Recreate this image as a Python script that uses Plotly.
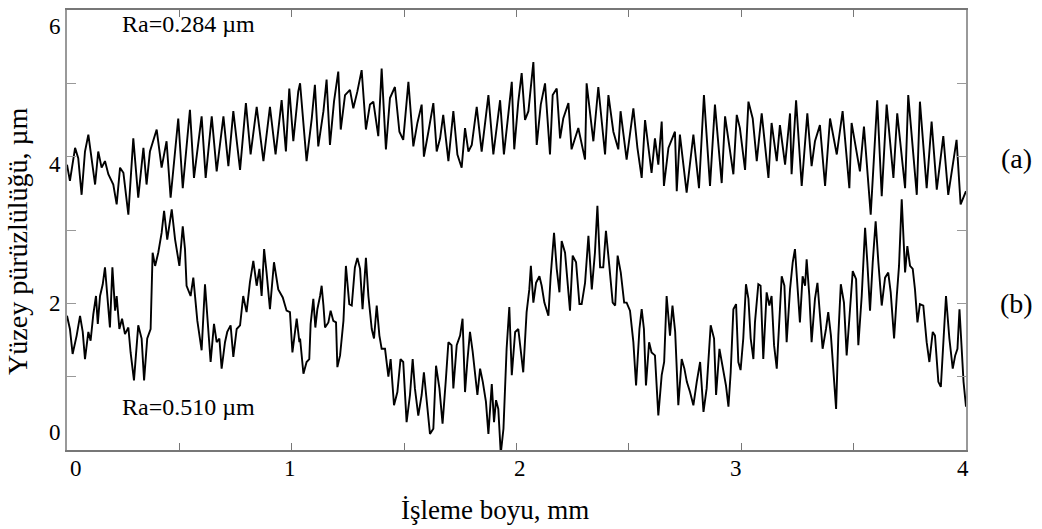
import plotly.graph_objects as go

# Profile (a) - upper curve, Ra = 0.284 um
xa = [0.000,0.013,0.036,0.050,0.065,0.080,0.095,0.110,0.125,0.139,0.154,0.169,0.184,0.206,0.221,0.236,0.251,0.273,0.295,0.317,
      0.340,0.354,0.369,0.399,0.421,0.443,0.461,0.495,0.515,0.547,0.565,0.599,0.617,0.644,0.666,0.696,0.718,0.740,0.770,0.796,
      0.817,0.844,0.874,0.903,0.928,0.955,0.974,0.989,1.007,1.029,
      1.037,1.066,1.089,1.103,1.118,1.141,1.155,1.170,1.188,1.207,1.218,1.237,1.259,1.274,1.292,1.311,1.330,1.348,1.363,1.385,
      1.400,1.419,1.437,1.459,1.479,1.496,1.519,1.541,1.559,1.578,1.588,1.608,1.630,1.645,1.660,1.674,1.697,1.719,1.737,1.756,
      1.771,1.786,1.801,1.823,1.845,1.875,1.897,1.927,1.944,1.964,1.979,1.990,2.008,
      2.023,2.038,2.053,2.075,2.090,2.108,2.127,2.149,2.161,2.179,2.194,2.208,2.231,2.245,2.275,2.305,2.312,2.342,2.364,2.394,
      2.409,2.431,2.453,2.463,2.490,2.520,2.538,2.557,2.572,2.601,2.616,2.631,2.646,2.656,2.676,2.705,2.713,2.727,2.757,2.787,
      2.812,2.834,2.861,2.883,2.913,
      2.928,2.965,2.980,2.994,3.017,3.032,3.051,3.069,3.091,3.121,3.135,3.158,3.172,3.195,3.217,3.224,3.244,3.269,3.294,3.313,
      3.328,3.350,3.373,3.395,3.425,3.451,3.481,3.491,3.528,3.546,3.576,3.605,3.625,3.647,3.677,3.694,3.729,3.743,3.781,3.795,
      3.825,3.847,3.870,3.899,3.921,3.958,3.976,4.000]
ya = [3.89,3.67,4.12,3.98,3.48,4.07,4.30,3.94,3.62,4.07,3.85,3.94,3.76,3.62,3.35,3.85,3.78,3.21,4.25,3.44,
      4.12,3.62,4.07,4.37,3.85,4.21,3.44,4.52,3.57,4.64,3.71,4.55,3.71,4.55,3.80,4.55,3.87,4.62,3.82,4.73,
      4.03,4.68,3.94,4.68,4.03,4.77,4.07,4.93,4.21,4.89,
      5.00,3.94,4.52,4.98,4.14,4.62,5.05,4.16,4.75,5.16,4.37,4.84,4.91,4.66,4.89,5.18,4.37,4.71,4.75,4.28,
      5.20,4.10,4.80,4.95,4.34,4.23,5.02,4.14,4.46,4.71,4.00,4.34,4.73,4.07,4.25,4.57,3.94,4.62,4.03,3.85,
      4.39,4.07,4.16,4.68,4.07,4.84,4.03,4.77,4.03,4.59,5.02,4.10,4.75,
      5.14,4.50,4.62,5.29,4.16,4.71,5.00,4.03,4.84,4.93,4.25,4.52,4.73,4.10,4.39,3.96,5.00,4.21,4.95,4.03,
      4.84,4.34,4.10,4.62,3.96,4.66,4.12,3.71,4.50,3.78,4.25,3.89,4.48,3.60,4.12,4.34,3.53,4.30,3.51,4.30,
      3.57,4.84,3.60,4.71,3.64,
      4.55,3.76,4.57,4.39,3.82,4.75,4.52,3.94,4.59,3.71,4.46,3.94,4.43,3.89,4.59,3.76,4.77,3.60,4.59,3.87,
      4.21,4.43,3.60,4.52,4.03,4.62,3.57,4.46,3.80,4.41,3.21,4.77,3.46,4.71,3.71,4.59,3.57,4.84,3.48,4.75,
      3.57,4.48,3.55,4.28,3.48,4.23,3.35,3.53]

# Profile (b) - lower curve, Ra = 0.510 um
xb = [0.000,0.013,0.025,0.043,0.058,0.070,0.080,0.095,0.105,0.117,0.129,0.137,0.147,0.159,0.169,0.179,0.191,0.202,0.214,0.221,
      0.233,0.245,0.258,0.273,0.283,0.298,0.317,0.332,0.343,0.357,0.372,0.381,0.392,0.406,0.421,0.432,0.446,0.466,0.481,0.500,
      0.515,0.525,0.532,0.550,0.562,0.580,0.599,0.614,0.629,0.639,0.654,0.666,0.678,0.688,0.703,0.713,0.728,0.740,0.755,0.770,
      0.784,0.799,0.814,0.829,0.844,0.856,0.866,0.877,0.888,0.903,0.921,0.940,0.960,0.977,0.992,1.003,1.022,1.034,
      1.037,1.052,1.066,1.078,1.084,1.096,1.105,1.114,1.126,1.133,1.141,1.148,1.163,1.173,1.185,1.197,1.203,1.215,1.230,1.241,
      1.256,1.267,1.281,1.292,1.304,1.315,1.330,1.341,1.356,1.366,1.378,1.390,1.400,1.415,1.430,1.440,1.455,1.470,1.484,1.496,
      1.511,1.526,1.538,1.548,1.563,1.578,1.588,1.600,1.615,1.630,1.642,1.657,1.671,1.685,1.697,1.711,1.719,1.734,1.749,1.760,
      1.771,1.781,1.793,1.805,1.815,1.826,1.838,1.850,1.864,1.875,1.890,1.900,1.909,1.919,1.930,1.942,1.956,1.968,1.979,1.994,2.008,
      2.023,2.030,2.045,2.057,2.064,2.075,2.087,2.102,2.112,2.124,2.142,2.152,2.167,2.179,2.191,2.201,2.216,2.228,2.238,2.250,
      2.265,2.280,2.290,2.305,2.320,2.335,2.349,2.360,2.372,2.386,2.398,2.413,2.428,2.439,2.450,2.464,2.479,2.490,2.505,2.520,
      2.532,2.547,2.557,2.567,2.576,2.590,2.601,2.616,2.631,2.646,2.657,2.668,2.683,2.694,2.706,2.720,2.735,2.747,2.758,2.772,
      2.787,2.802,2.817,2.832,2.846,2.864,2.879,2.888,2.903,
      2.932,2.943,2.953,2.965,2.977,2.987,2.997,3.009,3.021,3.032,3.042,3.054,3.061,3.076,3.086,3.098,3.113,3.125,3.135,3.146,
      3.158,3.169,3.180,3.192,3.202,3.217,3.229,3.239,3.250,3.261,3.273,3.284,3.291,3.303,3.313,3.328,3.339,3.350,3.362,3.377,
      3.387,3.399,3.410,3.422,3.432,3.443,3.457,3.469,3.481,3.496,3.511,3.521,3.536,3.551,3.561,3.573,3.585,3.598,3.610,3.625,
      3.640,3.654,3.665,3.680,3.692,3.702,3.714,3.729,3.739,3.751,3.763,3.773,3.784,3.795,3.810,3.825,3.837,3.852,3.862,3.877,
      3.888,3.899,3.911,3.926,3.941,3.952,3.962,3.971,3.982,3.989,4.000]
yb = [1.83,1.65,1.31,1.56,1.83,1.61,1.24,1.61,1.49,1.85,2.10,1.72,2.10,2.26,2.49,2.15,1.67,2.49,1.90,2.10,
      1.65,1.79,1.58,1.67,1.33,0.95,1.70,1.52,0.95,1.52,1.65,2.69,2.51,2.69,2.96,3.26,2.87,3.28,2.87,2.51,
      3.05,2.74,2.24,2.10,2.35,1.76,1.36,2.26,1.65,1.20,1.72,1.47,1.52,1.11,1.47,1.61,1.70,1.27,1.65,1.70,
      2.10,1.88,2.29,2.58,2.24,2.47,2.10,2.74,2.42,1.92,2.56,2.19,2.08,1.90,1.88,1.33,1.79,1.47,
      1.52,1.04,1.20,1.24,1.72,2.06,1.67,1.92,2.10,2.24,1.97,1.67,1.74,1.90,1.76,1.74,1.13,1.29,1.76,2.51,
      1.99,1.97,2.49,2.62,2.47,1.92,2.62,2.10,1.65,1.52,1.97,1.56,1.38,1.38,1.00,1.24,0.61,0.79,1.24,1.20,
      0.38,0.75,1.24,0.84,0.47,0.75,1.06,0.66,0.22,0.29,1.15,0.84,0.36,0.93,1.47,1.43,0.84,1.43,1.56,1.79,
      0.79,1.20,1.61,1.34,1.02,0.75,1.11,0.93,0.66,0.22,0.90,0.38,0.68,0.56,-0.05,0.29,1.38,1.95,1.02,1.61,1.65,
      1.20,1.06,1.88,2.19,2.51,2.01,2.28,2.37,2.24,2.01,1.83,2.37,2.96,2.47,2.15,2.85,2.69,2.28,1.90,2.65,
      2.56,1.99,1.99,2.28,2.92,2.19,2.69,3.33,2.49,2.49,2.99,2.51,2.01,1.97,2.65,2.42,2.01,2.01,1.90,1.47,
      0.88,1.65,1.92,1.65,0.88,1.47,1.33,1.29,0.47,1.02,1.20,2.10,1.56,1.97,1.61,0.61,1.24,1.11,0.93,0.79,
      0.61,0.93,1.20,0.52,0.84,1.70,1.52,0.75,1.38,
      0.88,0.59,1.06,1.92,1.99,1.20,1.09,1.52,2.26,2.06,1.52,1.24,1.74,2.26,2.24,1.24,2.15,1.97,2.10,1.43,
      1.11,1.74,2.37,2.24,1.47,2.19,2.56,2.74,2.19,1.74,2.37,2.24,2.60,2.10,1.47,2.06,2.28,1.88,1.38,1.65,
      1.88,1.56,1.11,0.56,1.56,2.26,2.01,1.29,1.79,2.44,2.33,1.43,2.10,3.03,2.56,1.90,2.56,3.12,2.56,1.97,
      2.35,2.42,2.15,1.52,2.10,2.51,3.42,2.42,2.78,2.51,2.47,2.19,1.74,1.99,1.97,1.47,1.20,1.61,1.56,0.93,
      0.86,1.43,2.10,1.52,1.11,1.29,1.38,1.92,1.29,0.93,0.59]

x_tick_vals = [0, 1, 2, 3, 4]
x_tick_text = ["0", "1", "2", "3", "4"]
y_tick_vals = [0, 2, 4, 6]
y_tick_text = ["0", "2", "4", "6"]

FONT = "Liberation Serif, Times New Roman, serif"

fig = go.Figure()
fig.add_trace(go.Scatter(x=xa, y=ya, mode="lines", line=dict(color="black", width=1.9), showlegend=False))
fig.add_trace(go.Scatter(x=xb, y=yb, mode="lines", line=dict(color="black", width=1.9), showlegend=False))

fig.update_layout(
    width=1042, height=529,
    margin=dict(l=67, r=76, t=8, b=79),
    paper_bgcolor="white", plot_bgcolor="white",
    font=dict(family=FONT, size=22, color="black"),
    xaxis=dict(range=[0, 4], dtick=0.5, tick0=0, ticks="inside", ticklen=7, tickcolor="#777",
               showline=True, linecolor="#777", linewidth=1.5, mirror="ticks",
               showgrid=False, zeroline=False, showticklabels=False),
    yaxis=dict(range=[0, 6], dtick=1, tick0=0, ticks="inside", ticklen=9, tickcolor="#999",
               showline=True, linecolor="#999", linewidth=1.5, mirror="ticks",
               showgrid=False, zeroline=False, showticklabels=False),
)

TICK_SIZE = 23
anns = []
x_shifts = [9, -2, 3, -5, -3]
for v, t, s in zip(x_tick_vals, x_tick_text, x_shifts):
    anns.append(dict(x=v, y=0, xref="x", yref="paper", text=t, showarrow=False,
                     xanchor="center", yanchor="middle", yshift=-18, xshift=s,
                     font=dict(family=FONT, size=TICK_SIZE)))
y_shifts = [18, 0, -8, -16]
for v, t, s in zip(y_tick_vals, y_tick_text, y_shifts):
    anns.append(dict(x=0, y=v, xref="paper", yref="y", text=t, showarrow=False,
                     xanchor="right", yanchor="middle", xshift=-4, yshift=s,
                     font=dict(family=FONT, size=TICK_SIZE)))

anns += [
    dict(x=120, y=529 - 22, xref="paper", yref="paper", text="Ra=0.284 \u00b5m", showarrow=False,
         xanchor="left", yanchor="middle", font=dict(family=FONT, size=24)),
    dict(x=120, y=529 - 407, xref="paper", yref="paper", text="Ra=0.510 \u00b5m", showarrow=False,
         xanchor="left", yanchor="middle", font=dict(family=FONT, size=24)),
    dict(x=1017, y=529 - 157, xref="paper", yref="paper", text="(a)", showarrow=False,
         xanchor="center", yanchor="middle", font=dict(family=FONT, size=28)),
    dict(x=1017, y=529 - 303, xref="paper", yref="paper", text="(b)", showarrow=False,
         xanchor="center", yanchor="middle", font=dict(family=FONT, size=28)),
    dict(x=495, y=529 - 510, xref="paper", yref="paper", text="\u0130\u015fleme boyu, mm", showarrow=False,
         xanchor="center", yanchor="middle", font=dict(family=FONT, size=27)),
    dict(x=18, y=529 - 240, xref="paper", yref="paper", text="Y\u00fczey p\u00fcr\u00fczl\u00fcl\u00fc\u011f\u00fc, \u00b5m",
         showarrow=False, textangle=-90, xanchor="center", yanchor="middle", font=dict(family=FONT, size=28)),
]
# convert pixel-based paper placements into paper fractions
for a in anns:
    if a["xref"] == "paper" and a["x"] > 1:
        a["x"] = (a["x"] - 67) / (1042 - 67 - 76)
    if a["yref"] == "paper" and a["y"] > 1:
        a["y"] = (a["y"] - 79) / (529 - 8 - 79)
fig.update_layout(annotations=anns)

fig.write_html("out.html")
